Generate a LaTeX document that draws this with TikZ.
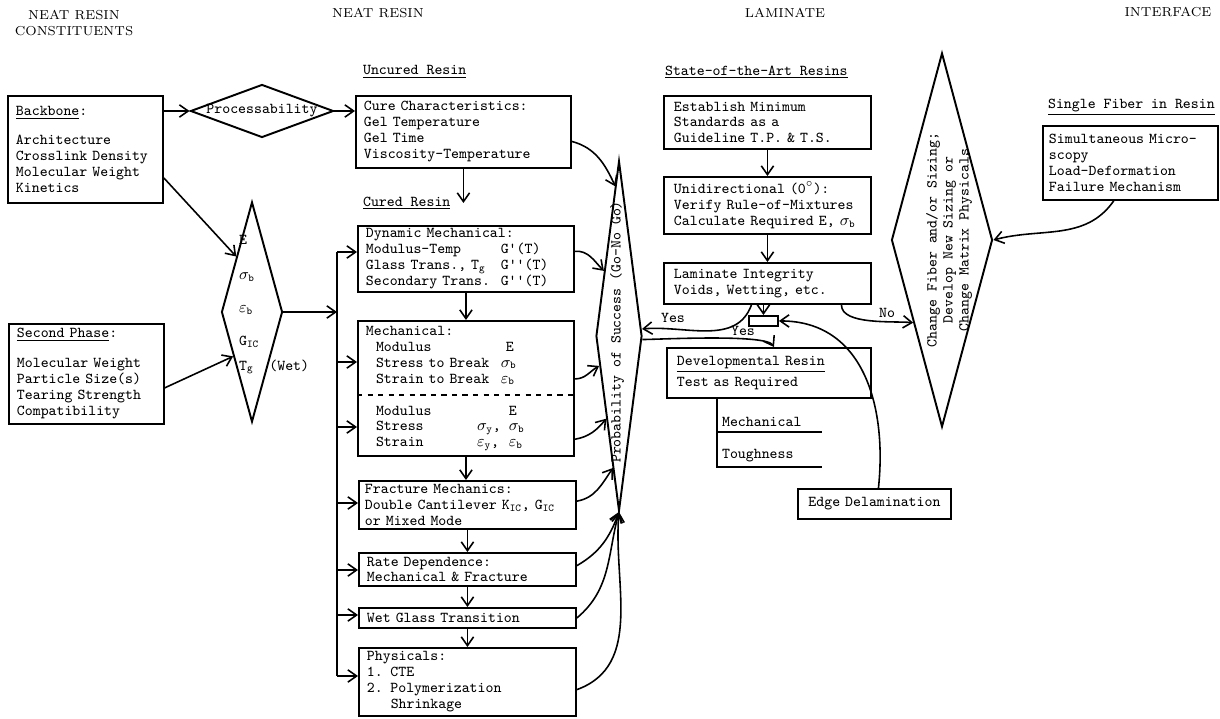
\documentclass[tikz,border=0pt]{standalone}
\usepackage{amsmath, amssymb}
\usetikzlibrary{positioning, calc, arrows.meta, shapes.geometric}
\newlength{\tyw}
\newcommand{\tyfont}{\ttfamily\fontsize{8.6}{9.1}\selectfont\setlength{\tyw}{0.525em}}
\newcommand{\tabto}[2]{\makebox[#1\tyw][l]{#2}}
\tikzset{
    resbox/.style={draw, line width=1.1pt, anchor=north west, align=left, font=\tyfont, inner xsep=0.16cm, inner ysep=0pt},
    hdr/.style={font=\rmfamily\fontsize{7.4}{9}\selectfont, align=center},
    lbl/.style={font=\tyfont, inner sep=1pt},
    decision/.style={diamond, draw, line width=1.1pt, inner sep=0pt},
    arrow/.style={-{Straight Barb[length=5pt, width=7pt]}, line width=0.9pt},
    wire/.style={line width=0.9pt},
}

\begin{document}
\begin{tikzpicture}[x=0.02cm, y=-0.02cm]
\useasboundingbox (0,0) rectangle (1220,719);

% Intestazioni
\node[hdr] (hconst) at (74,23) {NEAT RESIN\\CONSTITUENTS};
\node[hdr] (hneat) at (378,13) {NEAT RESIN};
\node[hdr] (hlam) at (785,13) {LAMINATE};
\node[hdr] (hint) at (1168,12) {INTERFACE};

% Costituenti
\node[resbox, text width=2.78cm, minimum height=2.14cm] (backbone) at (7,95) {\underline{Backbone}:\\[7pt]Architecture\\Crosslink Density\\Molecular Weight\\Kinetics};
\node[resbox, text width=2.78cm, minimum height=2.0cm] (second) at (8,323) {\underline{Second Phase}:\\[8pt]Molecular Weight\\Particle Size(s)\\Tearing Strength\\Compatibility};

\node[decision, minimum width=2.86cm, minimum height=1.06cm] (proc) at (262,111) {};
\node[lbl] (proctxt) at (proc.center) {Processability};

\node[decision, minimum width=1.22cm, minimum height=4.4cm] (props) at (252,312) {};
\node[lbl, anchor=west] (pmod) at (237,240) {E};
\node[lbl, anchor=west] (psig) at (237,277) {$\sigma_\mathtt{b}$};
\node[lbl, anchor=west] (peps) at (237,310) {$\varepsilon_\mathtt{b}$};
\node[lbl, anchor=west] (pgic) at (237,342) {G$_\mathtt{IC}$};
\node[lbl, anchor=west] (ptg) at (237,367) {T$_\mathtt{g}$\ \ (Wet)};

% Resina pura
\node[lbl, anchor=west] (uncured) at (361,72) {\underline{Uncured Resin}};
\node[resbox, text width=3.98cm, minimum height=1.44cm] (cure) at (355,95) {Cure Characteristics:\\Gel Temperature\\Gel Time\\Viscosity-Temperature};
\node[lbl, anchor=west] (cured) at (361,203) {\underline{Cured Resin}};
\node[resbox, text width=4.0cm, minimum height=1.32cm] (dyn) at (357,225) {Dynamic Mechanical:\\\tabto{17}{Modulus-Temp}G'(T)\\\tabto{17}{Glass Trans., T$_\mathtt{g}$}G''(T)\\\tabto{17}{Secondary Trans.}G''(T)};
\node[resbox, text width=4.0cm, minimum height=2.70cm] (mech) at (357,320) {Mechanical:\\
    \tabto{17}{\ \ Modulus}\ E\\
    \tabto{17}{\ \ Stress to Break}$\sigma_\mathtt{b}$\\
    \tabto{17}{\ \ Strain to Break}$\varepsilon_\mathtt{b}$\\
    \mbox{}\\
    \tabto{18}{\ \ Modulus}E\\
    \tabto{14}{\ \ Stress}\tabto{4}{$\sigma_\mathtt{y}$,}$\sigma_\mathtt{b}$\\
    \tabto{14}{\ \ Strain}\tabto{4}{$\varepsilon_\mathtt{y}$,}$\varepsilon_\mathtt{b}$};
\node[resbox, inner xsep=0.12cm, text width=4.10cm, minimum height=0.96cm] (frac) at (358,480) {Fracture Mechanics:\\Double Cantilever K$_\mathtt{IC}$, G$_\mathtt{IC}$\\or Mixed Mode};
\node[resbox, text width=4.02cm, minimum height=0.66cm] (rate) at (358,552) {Rate Dependence:\\Mechanical \& Fracture};
\node[resbox, text width=4.02cm, minimum height=0.40cm] (wet) at (358,607) {Wet Glass Transition};
\node[resbox, text width=4.02cm, minimum height=1.36cm] (phys) at (358,647) {Physicals:\\1. CTE\\2. Polymerization\\\tabto{3}{}Shrinkage};

\coordinate (mechcut) at (0,395);
\draw[dashed, wire] (mech.west |- mechcut) -- (mech.east |- mechcut);

% Bus di ingresso
\coordinate (bustop) at (337,252);
\coordinate (busbot) at (337,676);
\draw[wire] (bustop) -- (busbot);
\draw[arrow] (props.east) -- (props.east -| bustop);
\foreach \n/\y in {dyn/252, mech/362, mech/427, frac/503, rate/570, wet/615, phys/676}
    \draw[arrow] (bustop |- 0,\y) -- (\n.west |- 0,\y);

\draw[arrow] (backbone.east |- proc.west) -- (proc.west);
\draw[arrow] (proc.east) -- (proc.east -| cure.west);
\draw[arrow] (backbone.-20) -- (props.north west);
\draw[arrow] (second.-10) -- ($(props.west)!0.4!(props.south)$);
\draw[arrow] (cure.south) -- (cure.south |- cured.east);
\foreach \a/\b in {dyn/mech, mech/frac, frac/rate, rate/wet, wet/phys}
    \draw[arrow] (\a.south) -- (\a.south |- \b.north);

% Go / No Go
\node[decision, minimum width=0.92cm, minimum height=7.0cm] (prob) at (619,336) {};
\node[lbl, rotate=90] (probtxt) at (617,332) {Probability of Success (Go-No Go)};

\draw[arrow] (cure.-5) to[out=-15, in=115] ($(prob.north)!0.15!(prob.west)$);
\draw[arrow] (dyn.4) to[out=5, in=135] ($(prob.north)!0.63!(prob.west)$);
\draw[arrow] (mech.5) to[out=0, in=210] ($(prob.west)!0.17!(prob.south)$);
\draw[arrow] (mech.-25) to[out=10, in=230] ($(prob.west)!0.47!(prob.south)$);
\draw[arrow] (frac.2) to[out=10, in=235] ($(prob.west)!0.75!(prob.south)$);
\draw[arrow] (rate.2) to[out=30, in=250] (prob.south);
\draw[arrow] (wet.east) to[out=40, in=255] (prob.south);
\draw[arrow] (phys.-4) to[out=20, in=265] (prob.south);

% Laminato
\node[lbl, anchor=west] (soa) at (663,72) {\underline{State-of-the-Art Resins}};
\node[resbox, inner xsep=0.2cm, text width=3.74cm, minimum height=1.06cm] (estab) at (663,95) {Establish Minimum\\Standards as a\\Guideline T.P. \& T.S.};
\node[resbox, inner xsep=0.2cm, text width=3.74cm, minimum height=1.14cm] (unidir) at (663,176) {Unidirectional (0$^\circ$):\\Verify Rule-of-Mixtures\\Calculate Required E, $\sigma_\mathtt{b}$};
\node[resbox, inner xsep=0.2cm, text width=3.74cm, minimum height=0.82cm] (integ) at (663,262) {Laminate Integrity\\Voids, Wetting, etc.};
\node[draw, line width=1.1pt, minimum width=0.58cm, minimum height=0.2cm, inner sep=0pt, anchor=north west] (gate) at (748,315) {};
\node[resbox, inner xsep=0.2cm, text width=3.68cm, minimum height=1.0cm] (devel) at (666,347) {\underline{Developmental Resin}\\[3pt]Test as Required};
\node[resbox, align=center, text width=2.74cm, minimum height=0.6cm] (edge) at (797,488) {Edge Delamination};

\draw[arrow] (estab.south) -- (unidir.north);
\draw[arrow] (unidir.south) -- (integ.north);
\draw[arrow] (integ.south -| gate.north) -- (gate.north);

\draw[arrow] ($(integ.south)+(-16,0)$) to[out=-110, in=5] ($(prob.east)!0.04!(prob.north)$);
\node[lbl] (yes1) at (673,318) {Yes};
\draw[arrow] ($(prob.east)!0.02!(prob.south)$) to[out=0, in=120, looseness=0.3] ($(devel.north)+(5,0)$);
\node[lbl] (yes2) at (743,331) {Yes};
\draw[arrow] (edge.north) ++(4,0) to[out=84, in=0, looseness=1.1] (gate.east);

\coordinate (tree) at ($(devel.south west)+(51,0)$);
\draw[wire] (tree) -- ++(0,68) -- ++(105,0);
\draw[wire] ($(tree)+(0,33)$) -- ++(105,0);
\node[lbl, anchor=base west] (tmech) at ($(tree)+(3,28)$) {Mechanical};
\node[lbl, anchor=base west] (ttough) at ($(tree)+(3,60)$) {Toughness};

% Interfaccia
\node[decision, minimum width=2.02cm, minimum height=7.48cm] (change) at (942,240) {};
\node[lbl, rotate=90, align=center] (changetxt) at (949,240) {Change Fiber and/or Sizing;\\Develop New Sizing or\\Change Matrix Physicals};
\draw[arrow] ($(integ.south)+(74,0)$) to[out=-90, in=175, looseness=0.7] ($(change.west)!0.44!(change.south)$);
\node[lbl] (no) at (887,313) {No};

\node[lbl, anchor=west] (sfr) at (1046,107) {\underline{Single Fiber in Resin}};
\node[resbox, inner xsep=0.12cm, text width=3.27cm, minimum height=1.48cm] (fiber) at (1042,125) {Simultaneous Micro-\\scopy\\Load-Deformation\\Failure Mechanism};
\draw[arrow] ($(fiber.south)+(-17,0)$) to[out=235, in=15] (change.east);
\end{tikzpicture}
\end{document}
